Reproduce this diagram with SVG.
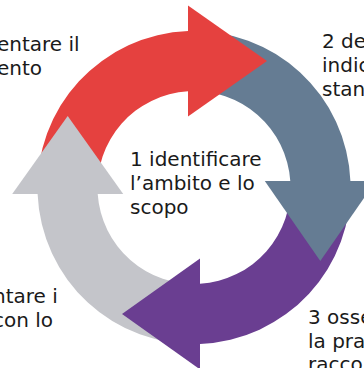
<svg xmlns="http://www.w3.org/2000/svg" width="364" height="368" viewBox="0 0 364 368">
  <style>
    .lbl { font-family: "DejaVu Sans", Verdana, sans-serif; font-size: 20px; fill: #1a1a1a; }
    .red { fill: #E5413F; }
    .blue { fill: #657C93; }
    .purple { fill: #6A3E91; }
    .gray { fill: #C4C5CA; }
  </style>
  <rect width="364" height="368" fill="#ffffff"/>
  <g id="bands">
    <path id="band-red" class="red" d="M 37.6,194 A 156.5 156.5 0 0 1 188,31.1 L 188,91.2 A 96.5 96.5 0 0 0 97.7,194 Z"/>
    <path id="band-blue" class="blue" d="M 188,31.1 A 156.5 156.5 0 0 1 350.4,181 L 290.3,181 A 96.5 96.5 0 0 0 188,91.2 Z"/>
    <path id="band-purple" class="purple" d="M 350.4,181 A 156.5 156.5 0 0 1 200,343.9 L 200,283.8 A 96.5 96.5 0 0 0 290.3,181 Z"/>
    <path id="band-gray" class="gray" d="M 200,343.9 A 156.5 156.5 0 0 1 37.6,194 L 97.7,194 A 96.5 96.5 0 0 0 200,283.8 Z"/>
  </g>
  <g id="heads">
    <path id="head-red" class="red" d="M 188,5.6 L 267,61.1 L 188,116.6 Z"/>
    <path id="head-blue" class="blue" d="M 264.8,181 L 375.8,181 L 320.3,261 Z"/>
    <path id="head-purple" class="purple" d="M 200,258.4 L 200,369.4 L 122,313.9 Z"/>
    <path id="head-gray" class="gray" d="M 12.2,194 L 123.2,194 L 67.7,116 Z"/>
  </g>
  <g id="node-1">
    <text class="lbl" x="130" y="166">1 identificare</text>
    <text class="lbl" x="130" y="190">l’ambito e lo</text>
    <text class="lbl" x="130" y="214">scopo</text>
  </g>
  <g id="node-2">
    <text class="lbl" x="322" y="48">2 de</text>
    <text class="lbl" x="322" y="72">indic</text>
    <text class="lbl" x="322" y="95.5">stan</text>
  </g>
  <g id="node-3">
    <text class="lbl" x="308" y="324">3 osse</text>
    <text class="lbl" x="308" y="347.5">la pra</text>
    <text class="lbl" x="308" y="371">racco</text>
  </g>
  <g id="node-4">
    <text class="lbl" x="-7" y="303">ntare i</text>
    <text class="lbl" x="-7" y="327">con lo</text>
  </g>
  <g id="node-5">
    <text class="lbl" x="-3" y="51">entare il</text>
    <text class="lbl" x="-3" y="75">ento</text>
  </g>
  <g id="connectors"/>
</svg>
